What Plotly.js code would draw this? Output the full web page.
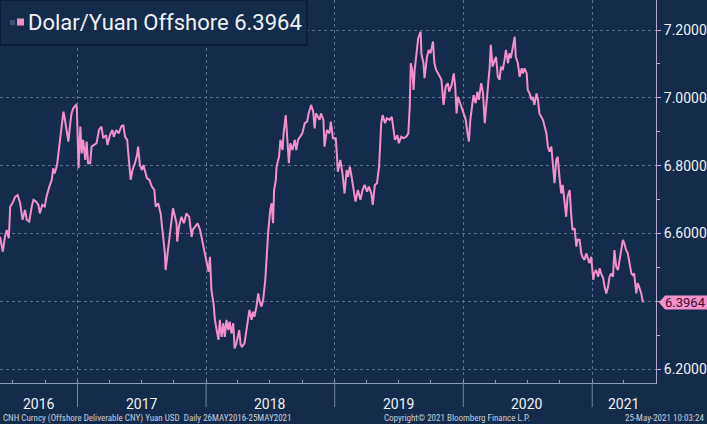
<!DOCTYPE html>
<html>
<head>
<meta charset="utf-8">
<script src="https://cdn.plot.ly/plotly-3.0.1.min.js"></script>
<style>
html,body{margin:0;padding:0;background:#152b4b;}
#chart{width:707px;height:424px;}
</style>
</head>
<body>
<div id="chart"></div>
<script>
const seriesName = 'Dolar/Yuan Offshore';
const dates = [
'2016-05-26','2016-05-31','2016-06-03','2016-06-09','2016-06-14','2016-06-20','2016-06-24','2016-07-01','2016-07-08','2016-07-15',
'2016-07-22','2016-07-29','2016-08-05','2016-08-10','2016-08-17','2016-08-24','2016-08-29','2016-09-05','2016-09-12','2016-09-16',
'2016-09-23','2016-09-30','2016-10-05','2016-10-13','2016-10-20','2016-10-24','2016-10-28','2016-11-04','2016-11-10','2016-11-17',
'2016-11-22','2016-11-25','2016-12-01','2016-12-06','2016-12-12','2016-12-15','2016-12-20','2016-12-28','2016-12-30','2017-01-04',
'2017-01-09','2017-01-13','2017-01-17','2017-01-23','2017-01-27','2017-01-31','2017-02-06','2017-02-10','2017-02-17','2017-02-24',
'2017-03-03','2017-03-10','2017-03-15','2017-03-23','2017-03-27','2017-04-03','2017-04-10','2017-04-14','2017-04-21','2017-04-28',
'2017-05-05','2017-05-11','2017-05-16','2017-05-22','2017-05-26','2017-06-01','2017-06-06','2017-06-13','2017-06-19','2017-06-22',
'2017-06-27','2017-07-03','2017-07-07','2017-07-17','2017-07-24','2017-07-31','2017-08-07','2017-08-11','2017-08-18','2017-08-25',
'2017-08-30','2017-09-06','2017-09-08','2017-09-15','2017-09-18','2017-09-25','2017-09-29','2017-10-09','2017-10-11','2017-10-16',
'2017-10-23','2017-10-30','2017-11-06','2017-11-14','2017-11-21','2017-11-24','2017-12-04','2017-12-08','2017-12-15','2017-12-22',
'2017-12-28','2018-01-02','2018-01-08','2018-01-12','2018-01-16','2018-01-22','2018-01-26','2018-01-31','2018-02-05','2018-02-09',
'2018-02-14','2018-02-19','2018-02-23','2018-02-28','2018-03-05','2018-03-09','2018-03-14','2018-03-19','2018-03-23','2018-03-28',
'2018-04-05','2018-04-09','2018-04-13','2018-04-20','2018-04-26','2018-04-30','2018-05-04','2018-05-10','2018-05-14','2018-05-18',
'2018-05-24','2018-05-29','2018-06-01','2018-06-07','2018-06-12','2018-06-18','2018-06-21','2018-06-26','2018-07-02','2018-07-06',
'2018-07-10','2018-07-13','2018-07-18','2018-07-20','2018-07-27','2018-07-31','2018-08-06','2018-08-09','2018-08-15','2018-08-20',
'2018-08-24','2018-08-28','2018-09-03','2018-09-10','2018-09-14','2018-09-19','2018-09-25','2018-10-01','2018-10-08','2018-10-15',
'2018-10-19','2018-10-26','2018-11-01','2018-11-05','2018-11-09','2018-11-19','2018-11-23','2018-11-30','2018-12-03','2018-12-10',
'2018-12-17','2018-12-21','2018-12-27','2019-01-04','2019-01-07','2019-01-10','2019-01-17','2019-01-23','2019-01-29','2019-02-04',
'2019-02-08','2019-02-13','2019-02-18','2019-02-25','2019-03-01','2019-03-08','2019-03-15','2019-03-21','2019-03-27','2019-04-03',
'2019-04-08','2019-04-15','2019-04-19','2019-04-25','2019-05-01','2019-05-07','2019-05-10','2019-05-13','2019-05-17','2019-05-24',
'2019-05-29','2019-06-06','2019-06-12','2019-06-17','2019-06-21','2019-06-28','2019-07-02','2019-07-09','2019-07-16','2019-07-23',
'2019-07-29','2019-08-02','2019-08-05','2019-08-09','2019-08-13','2019-08-16','2019-08-22','2019-08-26','2019-09-02','2019-09-04',
'2019-09-10','2019-09-13','2019-09-20','2019-09-25','2019-09-30','2019-10-07','2019-10-11','2019-10-16','2019-10-24','2019-10-31',
'2019-11-06','2019-11-12','2019-11-18','2019-11-22','2019-11-29','2019-12-05','2019-12-09','2019-12-13','2019-12-17','2019-12-20',
'2019-12-27','2020-01-02','2020-01-08','2020-01-13','2020-01-17','2020-01-21','2020-01-27','2020-01-30','2020-02-05','2020-02-10',
'2020-02-14','2020-02-21','2020-02-26','2020-03-02','2020-03-06','2020-03-11','2020-03-16','2020-03-19','2020-03-24','2020-03-30',
'2020-04-03','2020-04-08','2020-04-13','2020-04-17','2020-04-22','2020-04-27','2020-05-01','2020-05-07','2020-05-11','2020-05-15',
'2020-05-21','2020-05-26','2020-05-29','2020-06-04','2020-06-09','2020-06-15','2020-06-18','2020-06-23','2020-06-29','2020-07-02',
'2020-07-07','2020-07-13','2020-07-16','2020-07-21','2020-07-27','2020-07-31','2020-08-04','2020-08-10','2020-08-14','2020-08-19',
'2020-08-24','2020-08-28','2020-09-02','2020-09-07','2020-09-11','2020-09-16','2020-09-21','2020-09-25','2020-09-30','2020-10-05',
'2020-10-09','2020-10-14','2020-10-19','2020-10-23','2020-10-29','2020-11-02','2020-11-06','2020-11-12','2020-11-17','2020-11-20',
'2020-11-26','2020-12-01','2020-12-04','2020-12-10','2020-12-15','2020-12-18','2020-12-24','2020-12-29','2021-01-04','2021-01-07',
'2021-01-12','2021-01-18','2021-01-22','2021-01-26','2021-02-01','2021-02-05','2021-02-10','2021-02-15','2021-02-19','2021-02-24',
'2021-03-01','2021-03-05','2021-03-10','2021-03-15','2021-03-19','2021-03-24','2021-03-29','2021-04-02','2021-04-07','2021-04-12',
'2021-04-16','2021-04-22','2021-04-26','2021-04-30','2021-05-06','2021-05-10','2021-05-14','2021-05-20','2021-05-25'
];
const values = [
6.590,6.561,6.546,6.590,6.610,6.586,6.679,6.690,6.708,6.713,
6.690,6.640,6.669,6.640,6.635,6.679,6.699,6.694,6.684,6.659,
6.684,6.679,6.708,6.738,6.758,6.792,6.777,6.802,6.856,6.915,
6.959,6.944,6.895,6.871,6.930,6.954,6.969,6.979,6.974,6.792,
6.915,6.836,6.876,6.817,6.871,6.807,6.807,6.856,6.861,6.866,
6.905,6.915,6.881,6.890,6.861,6.890,6.905,6.885,6.905,6.895,
6.915,6.920,6.885,6.876,6.826,6.758,6.787,6.807,6.831,6.856,
6.802,6.787,6.802,6.763,6.758,6.738,6.728,6.679,6.689,6.659,
6.610,6.541,6.492,6.551,6.571,6.630,6.674,6.630,6.576,6.620,
6.649,6.630,6.659,6.649,6.590,6.610,6.625,6.630,6.610,6.571,
6.541,6.512,6.487,6.531,6.433,6.394,6.345,6.315,6.286,6.345,
6.295,6.335,6.295,6.345,6.315,6.340,6.305,6.335,6.261,6.276,
6.315,6.271,6.266,6.276,6.315,6.345,6.374,6.345,6.369,6.354,
6.384,6.423,6.404,6.384,6.404,6.463,6.531,6.600,6.669,6.689,
6.630,6.728,6.758,6.797,6.826,6.876,6.846,6.895,6.949,6.856,
6.807,6.866,6.846,6.876,6.846,6.876,6.885,6.895,6.925,6.930,
6.954,6.979,6.959,6.910,6.954,6.935,6.954,6.935,6.856,6.905,
6.895,6.930,6.881,6.881,6.836,6.782,6.817,6.777,6.718,6.787,
6.767,6.797,6.767,6.728,6.694,6.728,6.699,6.728,6.743,6.723,
6.738,6.718,6.684,6.743,6.748,6.797,6.876,6.925,6.949,6.925,
6.940,6.935,6.944,6.905,6.876,6.890,6.866,6.885,6.881,6.885,
6.895,6.974,7.102,7.082,7.023,7.082,7.141,7.176,7.195,7.131,
7.102,7.058,7.121,7.141,7.131,7.166,7.102,7.082,7.067,7.053,
6.979,7.033,7.043,7.018,7.038,7.072,7.033,6.954,7.003,6.994,
6.974,6.954,6.935,6.895,6.871,6.935,6.984,7.008,6.984,7.018,
6.994,7.043,7.013,6.925,6.974,7.033,7.092,7.156,7.092,7.111,
7.121,7.062,7.053,7.092,7.082,7.111,7.141,7.102,7.131,7.117,
7.151,7.180,7.121,7.102,7.062,7.087,7.072,7.087,7.072,7.023,
7.013,6.994,7.003,6.979,7.013,6.994,6.954,6.944,6.935,6.915,
6.895,6.856,6.841,6.856,6.817,6.748,6.817,6.826,6.767,6.718,
6.743,6.699,6.649,6.708,6.728,6.659,6.610,6.615,6.561,6.581,
6.581,6.541,6.531,6.522,6.541,6.531,6.512,6.531,6.463,6.482,
6.492,6.472,6.497,6.482,6.468,6.443,6.423,6.443,6.472,6.482,
6.472,6.551,6.502,6.492,6.522,6.551,6.581,6.571,6.551,6.541,
6.512,6.482,6.477,6.482,6.423,6.453,6.443,6.423,6.3964
];
const yTickVals = [6.2, 6.4, 6.6, 6.8, 7.0, 7.2];
const yTickText = ['6.2000', '', '6.6000', '6.8000', '7.0000', '7.2000'];
const yearLabels = ['2016','2017','2018','2019','2020','2021'];
const yearLabelDates = ['2016-09-13','2017-07-02','2018-07-02','2019-07-02','2020-07-01','2021-04-01'];
const yearStarts = ['2017-01-01','2018-01-01','2019-01-01','2020-01-01','2021-01-01'];
const footerLeft = 'CNH Curncy (Offshore Deliverable CNY) Yuan USD&nbsp;&nbsp;Daily 26MAY2016-25MAY2021';
const footerMid = 'Copyright\u00a9 2021 Bloomberg Finance L.P.';
const footerRight = '25-May-2021 10:03:24';
const xRange = ['2016-05-26','2021-07-01'];
const yRange = [6.1587, 7.2885];

const BG = '#152b4b';
const PINK = '#f490c9';
const GRID = '#5d7190';
const TXT = '#eef2f7';
const last = values[values.length-1];
const lastText = last.toFixed(4);

const trace = {
  x: dates, y: values, type: 'scatter', mode: 'lines',
  line: {color: PINK, width: 2}, hoverinfo: 'skip', showlegend: false
};

const shapes = [];
yearStarts.forEach(d => {
  shapes.push({type:'line', xref:'x', yref:'paper', x0:d, x1:d, y0:0, y1:-0.063,
    line:{color:'#7487a5', width:1}, layer:'above'});
});
// legend box
shapes.push({type:'rect', xref:'paper', yref:'paper', xsizemode:'pixel', ysizemode:'pixel',
  xanchor:0, yanchor:1, x0:0, x1:307, y0:0, y1:-45, fillcolor:BG,
  line:{color:'#0c1a30', width:1.5}, layer:'above'});
shapes.push({type:'rect', xref:'paper', yref:'paper', xsizemode:'pixel', ysizemode:'pixel',
  xanchor:0, yanchor:1, x0:10, x1:15, y0:-20, y1:-25, fillcolor:'#3f5373',
  line:{width:0}, layer:'above'});
shapes.push({type:'rect', xref:'paper', yref:'paper', xsizemode:'pixel', ysizemode:'pixel',
  xanchor:0, yanchor:1, x0:17, x1:24, y0:-18.5, y1:-25.5, fillcolor:PINK,
  line:{width:0}, layer:'above'});
// last value tag
shapes.push({type:'path', xref:'paper', yref:'y', xsizemode:'pixel', ysizemode:'pixel',
  xanchor:1, yanchor:last, path:'M 3 0 L 9 7 L 52 7 L 52 -7 L 9 -7 Z',
  fillcolor:PINK, line:{width:0}, layer:'above'});

const annotations = [];
yearLabels.forEach((t,i) => {
  annotations.push({text:t, xref:'x', yref:'paper', x:yearLabelDates[i], y:0, yshift:-21,
    xanchor:'center', yanchor:'middle', showarrow:false, borderpad:0,
    font:{family:'Roboto, sans-serif', size:14, color:TXT}});
});
annotations.push({text: seriesName + ' ' + lastText, xref:'paper', yref:'paper', x:0, y:1,
  xshift:26, yshift:-22.5, xanchor:'left', yanchor:'middle', showarrow:false,
  font:{family:'Roboto, sans-serif', size:22, color:TXT}});
annotations.push({text:lastText, xref:'paper', yref:'y', x:1, y:last, xshift:8,
  xanchor:'left', yanchor:'middle', showarrow:false, borderpad:0,
  font:{family:'Roboto, sans-serif', size:13, color:'#3b0f2e'}});
const footFont = {family:'"Liberation Sans Narrow", "Roboto Condensed", Roboto, sans-serif', size:9, color:'#c5cfdc'};
annotations.push({text:footerLeft, xref:'paper', yref:'paper', x:0, y:0, xshift:2, yshift:-35,
  xanchor:'left', yanchor:'middle', showarrow:false, borderpad:0, font:footFont});
annotations.push({text:footerMid, xref:'paper', yref:'paper', x:383/656, y:0, yshift:-35,
  xanchor:'left', yanchor:'middle', showarrow:false, borderpad:0, font:footFont});
annotations.push({text:footerRight, xref:'paper', yref:'paper', x:1, y:0, xshift:49, yshift:-35,
  xanchor:'right', yanchor:'middle', showarrow:false, borderpad:0, font:footFont});

const layout = {
  width:707, height:424,
  margin:{l:0, r:51, t:0, b:41, pad:0},
  paper_bgcolor:BG, plot_bgcolor:BG,
  showlegend:false,
  xaxis:{type:'date', range:xRange, showticklabels:false,
    tick0:'2017-01-01', dtick:'M12', ticks:'inside', ticklen:3, tickcolor:'#8c9cb6',
    showgrid:true, gridcolor:GRID, griddash:'dot', gridwidth:1,
    minor:{dtick:'M3', tick0:'2016-01-01', ticks:'inside', ticklen:3, tickcolor:'#8c9cb6', showgrid:false},
    showline:true, linecolor:'#8c9cb6', linewidth:1, zeroline:false, fixedrange:true},
  yaxis:{side:'right', range:yRange, tickmode:'array', tickvals:yTickVals, ticktext:yTickText,
    ticks:'outside', ticklen:4, tickcolor:'#c9a3cf',
    minor:{dtick:0.1, tick0:6.2, ticks:'outside', ticklen:3, tickcolor:'#c9a3cf', showgrid:false},
    showgrid:true, gridcolor:GRID, griddash:'dot', gridwidth:1,
    showline:true, linecolor:'#b7a6cc', linewidth:1, zeroline:false,
    tickfont:{family:'Roboto, sans-serif', size:14, color:TXT}, fixedrange:true},
  shapes:shapes, annotations:annotations
};
Plotly.newPlot('chart', [trace], layout, {displayModeBar:false, staticPlot:true});
</script>
</body>
</html>
